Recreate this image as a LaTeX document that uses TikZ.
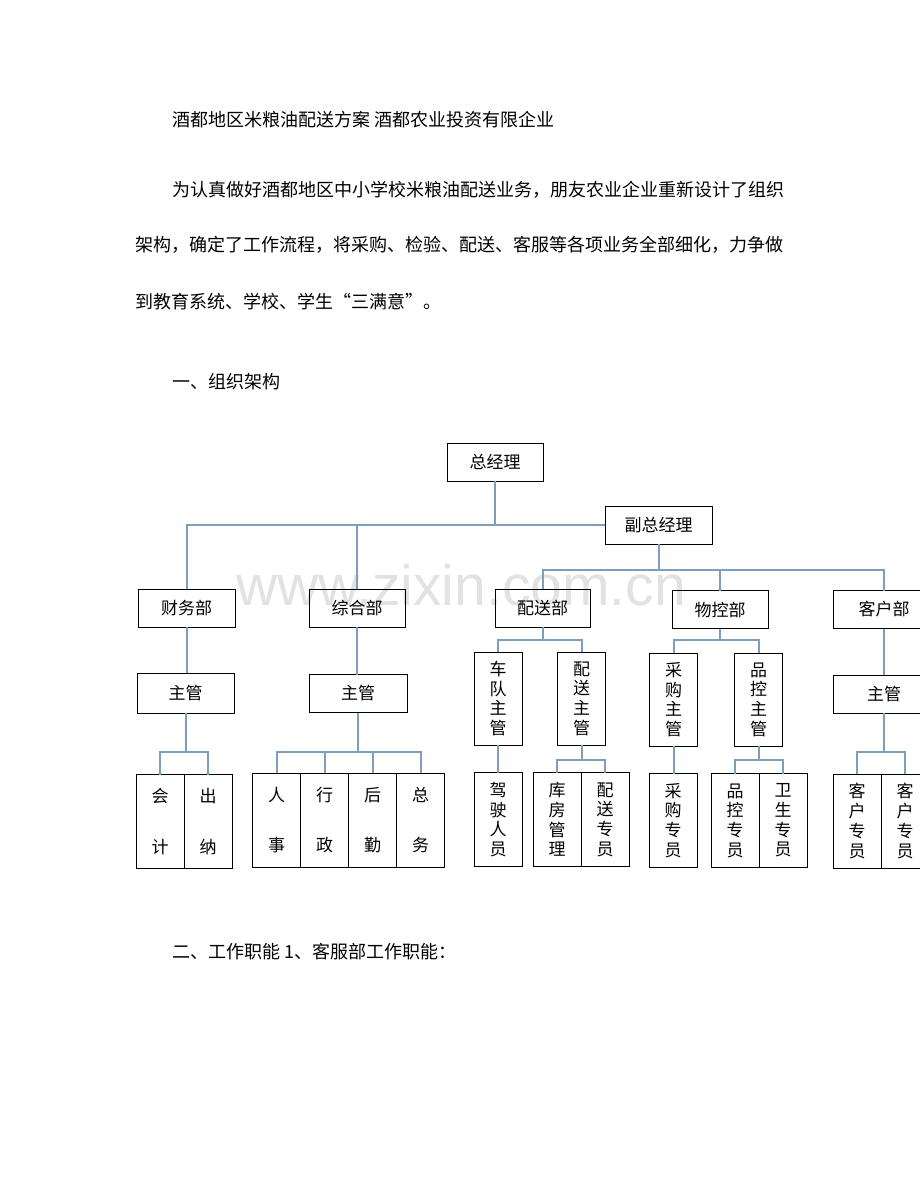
\documentclass[tikz,border=0pt]{standalone}
\usepackage{fontspec}
\setmainfont{Noto Sans CJK SC}
\newfontfamily\wmfont{Liberation Sans}
\usetikzlibrary{positioning}
\usepackage{xcolor}
\definecolor{linkblue}{RGB}{125,158,188}
\definecolor{wmgray}{RGB}{226,226,226}
\def\leafw{48pt}

\begin{document}
\begin{tikzpicture}[x=1pt,y=-1pt,node distance=0pt]
    \tikzstyle{para}=[anchor=west, inner sep=0pt, font=\fontsize{18}{22}\selectfont]
    \tikzstyle{box}=[draw=black, line width=1pt, inner sep=0pt, outer sep=0pt, align=center, font=\fontsize{17}{19.7}\selectfont]
    \tikzstyle{dept}=[box, minimum width=97pt, minimum height=38pt]
    \tikzstyle{head}=[box, minimum width=48pt, minimum height=93pt]
    \tikzstyle{leaf}=[box, minimum width=\leafw, minimum height=94pt]
    \tikzstyle{link}=[draw=linkblue, line width=2pt]

    \useasboundingbox (0,0) rectangle (920,1191);

    % Page text
    \node[para] (title) at (172,120) {酒都地区米粮油配送方案 酒都农业投资有限企业};
    \node[para] (p1) at (172,190) {为认真做好酒都地区中小学校米粮油配送业务，朋友农业企业重新设计了组织};
    \node[para] (p2) at (135,245) {架构，确定了工作流程，将采购、检验、配送、客服等各项业务全部细化，力争做};
    \node[para] (p3) at (135,302) {到教育系统、学校、学生“三满意”。};
    \node[para] (sec1) at (172,382) {一、组织架构};
    \node[para] (sec2) at (172,952) {二、工作职能 1、客服部工作职能：};

    % watermark behind the chart
    \node[font=\wmfont\fontsize{57}{57}\selectfont, text=wmgray, anchor=base] (wm) at (461,605) {www.zixin.com.cn};

    % Draw the top of the chart
    \node[dept, minimum width=96pt] (zjl) at (495,462) {总经理};
    \node[dept, minimum width=107pt] (fzjl) at (658.5,525) {副总经理};

    % Draw the departments
    \node[dept] (cwb) at (186.5,608) {财务部};
    \node[dept, minimum width=96pt] (zhb) at (357,608) {综合部};
    \node[dept, minimum width=95pt] (psb) at (542.5,608) {配送部};
    \node[dept, minimum width=96pt] (wkb) at (720,609.5) {物控部};
    \node[dept, minimum width=102pt] (khb) at (884,609.5) {客户部};

    % Draw the managers
    \node[dept, minimum height=40pt] (cwzg) at (185.5,693) {主管};
    \node[dept, minimum width=98pt] (zhzg) at (358,693.5) {主管};
    \node[head] (cdzg) at (498,698.5) {车\\队\\主\\管};
    \node[head] (pszg) at (581.5,698.5) {配\\送\\主\\管};
    \node[head] (cgzg) at (673.5,699.5) {采\\购\\主\\管};
    \node[head] (pkzg) at (758.5,699.5) {品\\控\\主\\管};
    \node[dept, minimum width=102pt] (khzg) at (884,694) {主管};

    % Draw the staff boxes, side by side
    \node[leaf] (kj) at (160,821.5) {会\\[31pt]计};
    \node[leaf, right=of kj] (cn) {出\\[31pt]纳};
    \node[leaf] (rs) at (276.5,820) {人\\[31pt]事};
    \node[leaf, right=of rs] (xz) {行\\[31pt]政};
    \node[leaf, right=of xz] (hq) {后\\[31pt]勤};
    \node[leaf, right=of hq] (zw) {总\\[31pt]务};
    \node[leaf] (jsry) at (498,819.5) {驾\\驶\\人\\员};
    \node[leaf] (kfgl) at (557,819.5) {库\\房\\管\\理};
    \node[leaf, right=of kfgl] (pszy) {配\\送\\专\\员};
    \node[leaf] (cgzy) at (673,820.5) {采\\购\\专\\员};
    \node[leaf] (pkzy) at (735,820.5) {品\\控\\专\\员};
    \node[leaf, right=of pkzy] (wszy) {卫\\生\\专\\员};
    \node[leaf] (khzy1) at (857,821) {客\\户\\专\\员};
    \node[leaf, right=of khzy1] (khzy2) {客\\户\\专\\员};

    % bus lines
    \coordinate (bus2) at (0,570);
    \coordinate (bus3) at (0,640);
    \coordinate (bus4) at (0,752);
    \coordinate (bus5) at (0,760);

    % Connect the general managers with the departments
    \draw[link] (zjl.south) -- (zjl.south |- fzjl.west);
    \draw[link] (cwb.north) |- (fzjl.west);
    \draw[link] (zhb.north) -- (zhb.north |- fzjl.west);
    \draw[link] (fzjl.south) -- (fzjl.south |- bus2);
    \draw[link] (psb.north) |- (khb.north |- bus2) -- (khb.north);
    \draw[link] (wkb.north) -- (wkb.north |- bus2);

    % Connect departments with their managers
    \foreach \source/\dest in {cwb/cwzg, zhb/zhzg, khb/khzg}
        \draw[link] (\source.south) -- (\source.south |- \dest.north);
    \foreach \source/\first/\last in {psb/cdzg/pszg, wkb/cgzg/pkzg}
    {
        \draw[link] (\source.south) -- (\source.south |- bus3);
        \draw[link] (\first.north) |- (\last.north |- bus3) -- (\last.north);
    }

    % Connect managers with the staff
    \foreach \source/\first/\last in {cwzg/kj/cn, zhzg/rs/zw, khzg/khzy1/khzy2}
    {
        \draw[link] (\source.south) -- (\source.south |- bus4);
        \draw[link] (\first.north) |- (\last.north |- bus4) -- (\last.north);
    }
    \foreach \dest in {xz,hq}
        \draw[link] (\dest.north) -- (\dest.north |- bus4);
    \foreach \source/\first/\last in {pszg/kfgl/pszy, pkzg/pkzy/wszy}
    {
        \draw[link] (\source.south) -- (\source.south |- bus5);
        \draw[link] (\first.north) |- (\last.north |- bus5) -- (\last.north);
    }
    \foreach \source/\dest in {cdzg/jsry, cgzg/cgzy}
        \draw[link] (\source.south) -- (\source.south |- \dest.north);
\end{tikzpicture}
\end{document}
